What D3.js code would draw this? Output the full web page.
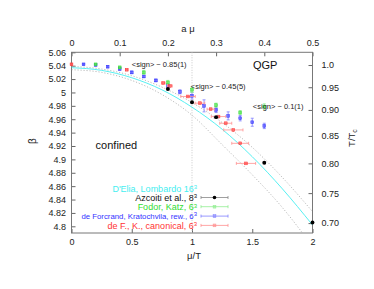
<!DOCTYPE html>
<html><head><meta charset="utf-8">
<script src="https://cdn.jsdelivr.net/npm/d3@7"></script>
<style>
html,body{margin:0;padding:0;background:#fff;}
svg{display:block;font-family:"Liberation Sans",Arial,Helvetica,sans-serif;}
</style></head>
<body><svg id="c" width="374" height="289"></svg>
<script>
// ---- data ----
const bottomTicks = [0, 0.5, 1, 1.5, 2];
const topTicks = [0, 0.1, 0.2, 0.3, 0.4, 0.5];
const leftTicks = [5.06,5.04,5.02,5.00,4.98,4.96,4.94,4.92,4.90,4.88,4.86,4.84,4.82,4.80];
const rightTickLabels = ["1.0","0.95","0.90","0.85","0.80","0.75","0.70"];
const rightTickTc = [1.0, 0.95, 0.90, 0.85, 0.80, 0.75, 0.70];
const rightTickBeta = [5.041, 5.0078, 4.9739, 4.935, 4.894, 4.8496, 4.8048];

// D'Elia, Lombardo curve and its error band
const curveMu   = [0, 0.25, 0.5, 0.75, 1.0, 1.25, 1.5, 1.75, 2.0];
const cyanBeta  = [5.037, 5.033, 5.022, 5.004, 4.978, 4.945, 4.904, 4.856, 4.802];
const bandUpper = [5.039, 5.035, 5.025, 5.008, 4.985, 4.955, 4.918, 4.873, 4.822];
const bandLower = [5.034, 5.030, 5.018, 4.997, 4.966, 4.922, 4.877, 4.828, 4.770];

// de Forcrand, Kratochvila, reweighting (vertical errors)
const blueMu   = [0.1,0.2,0.3,0.4,0.5,0.6,0.7,0.8,0.9,1.0,1.1,1.2,1.3,1.4,1.5,1.6];
const blueBeta = [5.042,5.041,5.0385,5.035,5.030,5.024,5.018,5.010,5.001,4.995,4.980,4.974,4.965,4.9615,4.9555,4.950];
const blueErr  = [0.001,0.001,0.0015,0.0015,0.002,0.002,0.002,0.0025,0.003,0.005,0.009,0.004,0.006,0.004,0.006,0.004];

// Fodor, Katz (vertical errors)
const greenMu   = [0.2,0.4,0.6,0.8,1.0,1.2,1.4,1.6];
const greenBeta = [5.042,5.0375,5.030,5.015,5.004,4.981,4.970,4.979];
const greenErr  = [0.001,0.0015,0.003,0.003,0.004,0.003,0.003,0.004];

// de F., K., canonical (horizontal errors)
const redMu   = [0,0.458,0.762,0.817,0.967,1.066,1.155,1.22,1.28,1.343,1.40,1.448];
const redBeta = [5.042,5.034,5.014,5.0097,4.994,4.984,4.975,4.964,4.954,4.944,4.924,4.894];
const redErr  = [0.005,0.01,0.015,0.02,0.06,0.04,0.03,0.06,0.05,0.08,0.07,0.08];

// Azcoiti et al. (horizontal errors)
const blackMu   = [0.8,1.0,1.2,1.6,2.0];
const blackBeta = [5.0052,4.9854,4.963,4.895,4.8057];
const blackErr  = [0.01,0.01,0.015,0.01,0.005];

const signLabels = ["<sign> ~ 0.85(1)", "<sign> ~ 0.45(5)", "<sign> ~ 0.1(1)"];
const legendNames = ["D'Elia, Lombardo 16", "Azcoiti et al., 8", "Fodor, Katz, 6", "de Forcrand, Kratochvila, rew., 6", "de F., K., canonical, 6"];

// ---- layout ----
const L = 71.5, R = 312.5, T = 52.3, B = 233;
const x = d3.scaleLinear().domain([0, 2]).range([L, R]);
const xTop = d3.scaleLinear().domain([0, 0.5]).range([L, R]);
const y = d3.scaleLinear().domain([4.79, 5.06]).range([B, T]);
const yRight = d3.scaleLinear().domain(rightTickTc).range(rightTickBeta.map(b => y(b)));

const COL = {cyan:"#44eef0", red:"#ff3333", redE:"#ff9090", blue:"#3333ff", blueE:"#8080ff", green:"#33dd33", greenE:"#90ee90", black:"#000"};
const svg = d3.select("#c");

svg.append("defs").append("clipPath").attr("id","pc")
  .append("rect").attr("x",L).attr("y",T).attr("width",R-L).attr("height",B-T);

const fmtL = d => d3.format("")(+d.toFixed(2));

function styleAxis(g){
  g.select(".domain").remove();
  g.selectAll(".tick line").attr("stroke","#666");
  g.selectAll(".tick text").attr("fill","#222").attr("font-size","9px")
   .attr("font-family","Liberation Sans, Arial, sans-serif");
}
svg.append("g").attr("transform",`translate(${L},0)`)
  .call(d3.axisLeft(y).tickValues(leftTicks).tickSizeInner(-4).tickSizeOuter(0).tickPadding(5.5).tickFormat(fmtL))
  .call(styleAxis);
svg.append("g").attr("transform",`translate(0,${B})`)
  .call(d3.axisBottom(x).tickValues(bottomTicks).tickSizeInner(-4).tickSizeOuter(0).tickPadding(6).tickFormat(d3.format("")))
  .call(styleAxis);
svg.append("g").attr("transform",`translate(0,${T})`)
  .call(d3.axisTop(xTop).tickValues(topTicks).tickSizeInner(-4).tickSizeOuter(0).tickPadding(6.5).tickFormat(d3.format("")))
  .call(styleAxis);
svg.append("g").attr("transform",`translate(${R},0)`)
  .call(d3.axisRight(yRight).tickValues(rightTickTc).tickSizeInner(-4).tickSizeOuter(0).tickPadding(9)
        .tickFormat((d,i) => rightTickLabels[i]))
  .call(styleAxis);

// frame
svg.append("rect").attr("x",L).attr("y",T).attr("width",R-L).attr("height",B-T)
  .attr("fill","none").attr("stroke","#777").attr("stroke-width",1);

// axis labels
svg.append("text").attr("x",188).attr("y",32).attr("text-anchor","middle").attr("font-size","9.5px").attr("fill","#222").text("a μ");
svg.append("text").attr("x",194).attr("y",259).attr("text-anchor","middle").attr("font-size","9.5px").attr("fill","#222").text("μ/T");
svg.append("text").attr("transform","translate(36,141) rotate(-90)").attr("text-anchor","middle").attr("font-size","10px").attr("fill","#222").text("β");
const tt = svg.append("text").attr("transform","translate(355,138) rotate(-90)").attr("text-anchor","middle").attr("font-size","9.5px").attr("fill","#222");
tt.append("tspan").text("T/T");
tt.append("tspan").attr("font-size","7px").attr("dy","2").text("c");

const plot = svg.append("g").attr("clip-path","url(#pc)");

// vertical dotted line at mu/T = 1
plot.append("line").attr("x1",x(1)).attr("x2",x(1)).attr("y1",y(5.06)).attr("y2",y(4.79))
  .attr("stroke","#c8c8c8").attr("stroke-dasharray","1,1.5");

// curves
const line = arr => d3.line().x((d,i)=>x(curveMu[i])).y(d=>y(d)).curve(d3.curveMonotoneX)(arr);
plot.append("path").attr("d",line(bandUpper)).attr("fill","none").attr("stroke","#aaa").attr("stroke-width",0.8).attr("stroke-dasharray","1.2,1.8");
plot.append("path").attr("d",line(bandLower)).attr("fill","none").attr("stroke","#aaa").attr("stroke-width",0.8).attr("stroke-dasharray","1.2,1.8");
plot.append("path").attr("d",line(cyanBeta)).attr("fill","none").attr("stroke",COL.cyan).attr("stroke-width",0.9);

// helpers
function vErr(g, mu, beta, err, cE){
  const cx = x(mu), y1 = y(beta+err), y2 = y(beta-err);
  g.append("line").attr("x1",cx).attr("x2",cx).attr("y1",y1).attr("y2",y2).attr("stroke",cE).attr("stroke-width",0.8);
  [y1,y2].forEach(v=>g.append("line").attr("x1",cx-1.5).attr("x2",cx+1.5).attr("y1",v).attr("y2",v).attr("stroke",cE).attr("stroke-width",0.8));
}
function hErr(g, mu, beta, err, cE){
  const cy = y(beta), x1 = x(mu-err), x2 = x(mu+err);
  g.append("line").attr("x1",x1).attr("x2",x2).attr("y1",cy).attr("y2",cy).attr("stroke",cE).attr("stroke-width",0.8);
  [x1,x2].forEach(v=>g.append("line").attr("x1",v).attr("x2",v).attr("y1",cy-1.5).attr("y2",cy+1.5).attr("stroke",cE).attr("stroke-width",0.8));
}
function boxMark(g, cx, cy, c){
  g.append("rect").attr("x",cx-1.4).attr("y",cy-1.4).attr("width",2.8).attr("height",2.8)
   .attr("fill",c).attr("fill-opacity",0.6).attr("stroke",c).attr("stroke-width",0.5);
}

const pts = svg.append("g");
// blue
blueMu.forEach((m,i)=>{ vErr(pts,m,blueBeta[i],blueErr[i],COL.blueE); });
blueMu.forEach((m,i)=>boxMark(pts,x(m),y(blueBeta[i]),COL.blue));
// green
greenMu.forEach((m,i)=>{ vErr(pts,m,greenBeta[i],greenErr[i],COL.greenE); });
greenMu.forEach((m,i)=>boxMark(pts,x(m),y(greenBeta[i]),COL.green));
// red
redMu.forEach((m,i)=>{ hErr(pts,m,redBeta[i],redErr[i],COL.redE); });
redMu.forEach((m,i)=>boxMark(pts,x(m),y(redBeta[i]),COL.red));
// black
blackMu.forEach((m,i)=>{ hErr(pts,m,blackBeta[i],blackErr[i],"#888"); });
blackMu.forEach((m,i)=>pts.append("circle").attr("cx",x(m)).attr("cy",y(blackBeta[i])).attr("r",1.9).attr("fill","#000"));

// annotations
const signPos = [[0.5, 5.0385],[0.99, 5.0055],[1.505, 4.9755]];
signLabels.forEach((s,i)=>svg.append("text").attr("x",x(signPos[i][0])).attr("y",y(signPos[i][1]))
   .attr("font-size","7.5px").attr("fill","#222").text(s));
svg.append("text").attr("x",x(1.506)).attr("y",y(5.0345)).attr("font-size","11px").attr("fill","#111").text("QGP");
svg.append("text").attr("x",x(0.2)).attr("y",y(4.915)).attr("font-size","11px").attr("fill","#111").text("confined");

// legend
const legY = [188.3, 197.5, 206.7, 216.1, 225.4];
const legCol = [COL.cyan, "#111", COL.green, COL.blue, COL.red];
const legLine = [null, "#888", COL.greenE, COL.blueE, COL.redE];
const legSup = ["3","3","3","3","3"];
const legSize = [9, 9, 9, 7.8, 9];
legendNames.forEach((nm,i)=>{
  const t = svg.append("text").attr("x",197).attr("y",legY[i]+legSize[i]*0.38).attr("text-anchor","end")
     .attr("font-size",legSize[i]+"px").attr("fill",legCol[i]);
  t.append("tspan").text(nm);
  t.append("tspan").attr("font-size","6px").attr("dy",-2.6).text(legSup[i]);
  if(legLine[i]){
    const ly = legY[i];
    svg.append("line").attr("x1",201).attr("x2",228).attr("y1",ly).attr("y2",ly).attr("stroke",legLine[i]).attr("stroke-width",0.8);
    [201,228].forEach(v=>svg.append("line").attr("x1",v).attr("x2",v).attr("y1",ly-1.5).attr("y2",ly+1.5).attr("stroke",legLine[i]).attr("stroke-width",0.8));
    if(i===1) svg.append("circle").attr("cx",214.5).attr("cy",ly).attr("r",1.8).attr("fill","#000");
    else boxMark(svg,214.5,ly,legLine[i]);
  }
});
</script></body></html>
